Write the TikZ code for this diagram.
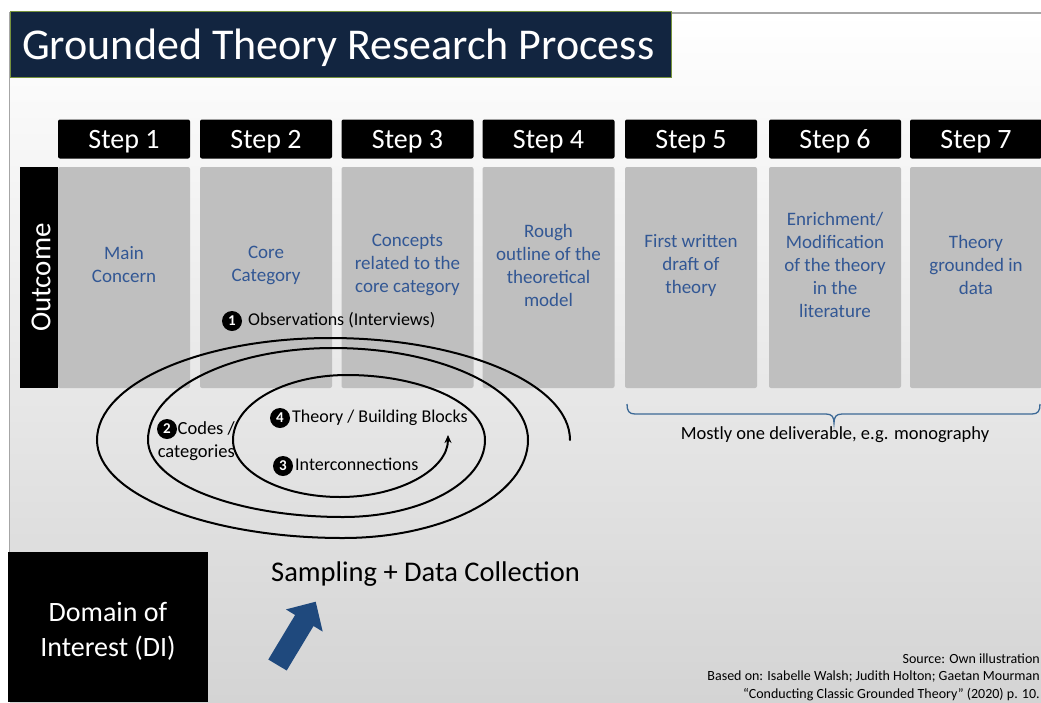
\documentclass[tikz,border=0pt]{standalone}
\usepackage{fontspec}
\setmainfont{Carlito}
\usetikzlibrary{arrows.meta}
\definecolor{navy}{RGB}{18,37,64}
\definecolor{olivec}{RGB}{118,146,60}
\definecolor{boxgray}{RGB}{191,191,191}
\definecolor{txtblue}{RGB}{50,87,148}
\definecolor{arrowblue}{RGB}{31,73,125}
\definecolor{bracecol}{RGB}{60,105,150}
\definecolor{framegray}{RGB}{166,166,166}
\definecolor{bgbottom}{RGB}{212,212,212}
\begin{document}
\begin{tikzpicture}[x=1pt,y=-1pt,
  stephead/.style={fill=black, rounded corners=2pt, minimum width=132pt, minimum height=39pt, text=white, font=\fontsize{28}{30}\selectfont, inner sep=0pt, text height=18pt, text depth=0pt},
  outbox/.style={fill=boxgray, rounded corners=2pt, minimum width=132pt, minimum height=221pt, inner sep=0pt},
  outtext/.style={text=txtblue, font=\fontsize{19}{23}\selectfont, align=center, inner sep=0pt},
  num/.style={circle, fill=black, text=white, inner sep=0pt, minimum size=20pt, font=\fontsize{15}{15}\selectfont\bfseries},
  lbl/.style={font=\fontsize{18}{23}\selectfont, anchor=west, inner sep=0pt, text height=12.6pt, text depth=3.6pt},
  spiral/.style={line width=2pt, line cap=round},
]
\useasboundingbox (0,0) rectangle (1041,702);
% background and frame
\shade[top color=white, bottom color=bgbottom] (10,13) rectangle (1041,702);
\draw[framegray, line width=1.6pt] (9.5,702) -- (9.5,13) -- (1041,13);
% title
\node[fill=navy, draw=olivec, line width=0.8pt, minimum width=661pt, minimum height=66pt, anchor=north west, inner sep=0pt] (titlebox) at (10,11) {};
\node[text=white, anchor=base west, inner sep=0pt, font=\fontsize{44}{48}\selectfont] (title) at (22,59) {Grounded Theory Research Process};
% step headers
\node[stephead] (s1) at (124,139) {Step 1};
\node[stephead] (s2) at (266,139) {Step 2};
\node[stephead] (s3) at (407.5,139) {Step 3};
\node[stephead] (s4) at (548.5,139) {Step 4};
\node[stephead] (s5) at (691,139) {Step 5};
\node[stephead] (s6) at (835,139) {Step 6};
\node[stephead] (s7) at (976,139) {Step 7};
% outcome boxes
\node[outbox] (b1) at (124,277.5) {};
\node[outbox] (b2) at (266,277.5) {};
\node[outbox] (b3) at (407.5,277.5) {};
\node[outbox] (b4) at (548.5,277.5) {};
\node[outbox] (b5) at (691,277.5) {};
\node[outbox] (b6) at (835,277.5) {};
\node[outbox] (b7) at (976,277.5) {};
\node[outtext] (t1) at (124,265) {Main\\Concern};
\node[outtext] (t2) at (266,265) {Core\\Category};
\node[outtext] (t3) at (407.5,265) {Concepts\\related to the\\core category};
\node[outtext] (t4) at (548.5,265) {Rough\\outline of the\\theoretical\\model};
\node[outtext] (t5) at (691,265) {First written\\draft of\\theory};
\node[outtext] (t6) at (835,265) {Enrichment/\\Modification\\of the theory\\in the\\literature};
\node[outtext] (t7) at (976,265) {Theory\\grounded in\\data};
% outcome bar
\node[fill=black, minimum width=38pt, minimum height=221pt, inner sep=0pt] (outbar) at (39,277.5) {};
\node[rotate=90, text=white, font=\fontsize{29}{30}\selectfont, inner sep=0pt, text height=18.7pt, text depth=0pt] (outlbl) at (41,277.5) {Outcome};
% spiral labels
\node[num] (n1) at (232,321) {1};
\node[lbl] (l1) at (248,321) {Observations (Interviews)};
\node[num] (n2) at (167,429) {2};
\node[font=\fontsize{18.5}{23}\selectfont, align=right, anchor=east, inner sep=0pt] (l2) at (235,441) {Codes /\\categories};
\node[num] (n4) at (280,418) {4};
\node[lbl] (l4) at (292,418) {Theory / Building Blocks};
\node[num] (n3) at (283,466) {3};
\node[lbl] (l3) at (295,466) {Interconnections};
% spiral
\draw[spiral, -{Stealth[length=8pt,width=7pt]}] (570,440)
 arc[start angle=0,end angle=-90,x radius=240,y radius=102]
 arc[start angle=-90,end angle=-180,x radius=233,y radius=102]
 arc[start angle=-180,end angle=-270,x radius=246,y radius=98]
 arc[start angle=-270,end angle=-360,x radius=185,y radius=98]
 arc[start angle=0,end angle=-90,x radius=195,y radius=92]
 arc[start angle=-90,end angle=-180,x radius=185,y radius=92]
 arc[start angle=-180,end angle=-270,x radius=195,y radius=77]
 arc[start angle=-270,end angle=-360,x radius=142,y radius=77]
 arc[start angle=0,end angle=-90,x radius=138,y radius=65]
 arc[start angle=-90,end angle=-180,x radius=114,y radius=65]
 arc[start angle=-180,end angle=-270,x radius=107,y radius=57]
 arc[start angle=-270,end angle=-360,x radius=108,y radius=62];
% brace
\draw[bracecol, line width=1.3pt] (627,404) .. controls (627,411) and (629,414) .. (635,414) -- (826,414) .. controls (832,414) and (834,417) .. (834,423) .. controls (834,417) and (836,414) .. (842,414) -- (1032,414) .. controls (1038,414) and (1040,411) .. (1040,404);
\node[font=\fontsize{18.5}{20}\selectfont, inner sep=0pt] (deliv) at (835,435) {Mostly one deliverable, e.g. monography};
% domain of interest
\node[fill=black, minimum width=200pt, minimum height=150pt, anchor=north west, inner sep=0pt] (dibox) at (8,552) {};
\node[text=white, font=\fontsize{28}{35}\selectfont, align=center, inner sep=0pt] (dilbl) at (108,631) {Domain of\\Interest (DI)};
\node[font=\fontsize{28.5}{30}\selectfont, anchor=base west, inner sep=0pt] (sampling) at (271,581) {Sampling + Data Collection};
% block arrow
\fill[arrowblue] (268.3,659.5) -- (295.1,615) -- (285.9,609.4) -- (315.7,601.7) -- (322.7,631.6) -- (313.5,626) -- (286.7,670.5) -- cycle;
% source
\node[font=\fontsize{14}{17.5}\selectfont, align=right, anchor=east, inner sep=0pt] (source) at (1040,677) {Source: Own illustration\\Based on: Isabelle Walsh; Judith Holton; Gaetan Mourman\\“Conducting Classic Grounded Theory” (2020) p. 10.};
\end{tikzpicture}
\end{document}
